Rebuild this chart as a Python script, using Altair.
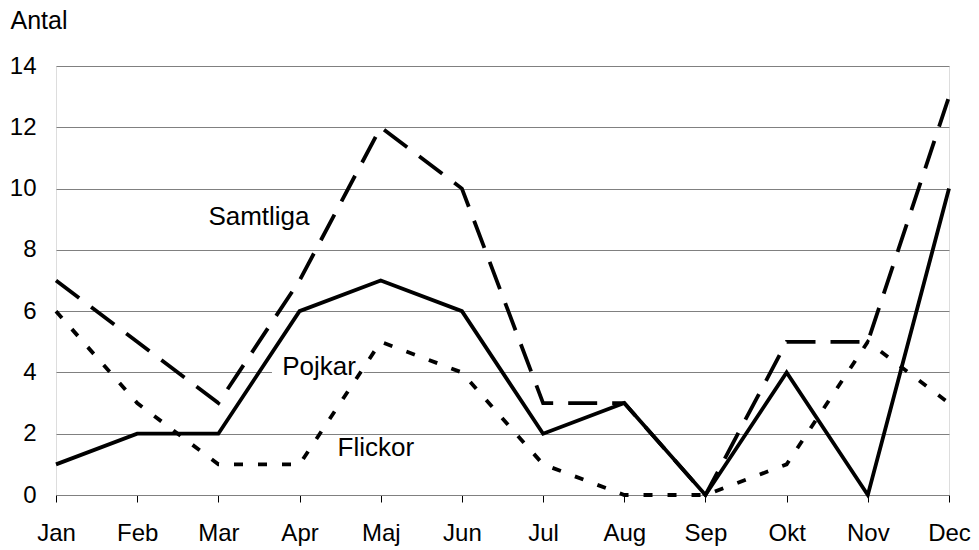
import altair as alt
import pandas as pd

months = ["Jan", "Feb", "Mar", "Apr", "Maj", "Jun", "Jul", "Aug", "Sep", "Okt", "Nov", "Dec"]
samtliga = [7, 5, 3, 7, 12, 10, 3, 3, 0, 5, 5, 13]
pojkar = [1, 2, 2, 6, 7, 6, 2, 3, 0, 4, 0, 10]
flickor = [6, 3, 1, 1, 5, 4, 1, 0, 0, 1, 5, 3]

label_names = ["Samtliga", "Pojkar", "Flickor"]
label_x = [2.50, 3.24, 3.94]
label_y = [9.07, 4.18, 1.53]

idx = list(range(len(months)))
rows = []
for name, vals in [("Samtliga", samtliga), ("Pojkar", pojkar), ("Flickor", flickor)]:
    for i, v in zip(idx, vals):
        rows.append({"i": i, "month": months[i], "serie": name, "antal": v})
df = pd.DataFrame(rows)

labels_df = pd.DataFrame({"label": label_names, "x": label_x, "y": label_y})
mask_df = pd.DataFrame({"x": [2.66], "x2": [3.79], "y": [3.75], "y2": [4.57]})

FONT = "Liberation Sans"
month_expr = "[" + ",".join(f"'{m}'" for m in months) + "][datum.value]"

xscale = alt.Scale(domain=[0, 11], nice=False, zero=False)
yscale = alt.Scale(domain=[0, 14], nice=False)

xaxis = alt.Axis(
    values=idx, labelExpr=month_expr, title=None, grid=False,
    domainColor="#808080", domainWidth=1, tickColor="#000000", tickWidth=1,
    tickSize=7, labelPadding=19, labelFontSize=24, labelFont=FONT,
    labelColor="#000000", labelAngle=0, labelBaseline="top",
    labelBound=False, labelFlush=False, labelOverlap=False,
)
yaxis = alt.Axis(
    values=[0, 2, 4, 6, 8, 10, 12, 14], title="Antal", titleAngle=0,
    titleAlign="left", titleBaseline="alphabetic", titleX=-46, titleY=-38,
    titleFont=FONT, titleFontSize=25, titleFontWeight="normal", titleColor="#000000",
    grid=True, gridColor="#808080", gridWidth=1, domain=False, ticks=False,
    tickSize=0, labelPadding=20, labelFontSize=24, labelFont=FONT,
    labelColor="#000000",
)

base = alt.Chart(df)

mask = alt.Chart(mask_df).mark_rect(fill="white", stroke=None).encode(
    x=alt.X("x:Q", scale=xscale, axis=xaxis),
    x2="x2:Q",
    y=alt.Y("y:Q", scale=yscale, axis=yaxis),
    y2="y2:Q",
)

def line(name, dash):
    kw = dict(color="black", strokeWidth=3.8, strokeCap="butt", strokeJoin="miter")
    if dash:
        kw["strokeDash"] = dash
    return base.transform_filter(alt.datum.serie == name).mark_line(**kw).encode(
        x=alt.X("i:Q", scale=xscale, axis=xaxis),
        y=alt.Y("antal:Q", scale=yscale, axis=yaxis),
    )

l_s = line("Samtliga", [29, 15])
l_p = line("Pojkar", None)
l_f = line("Flickor", [9, 15])

texts = alt.Chart(labels_df).mark_text(
    font=FONT, fontSize=26, color="black", align="center", baseline="middle"
).encode(
    x=alt.X("x:Q", scale=xscale, axis=xaxis),
    y=alt.Y("y:Q", scale=yscale, axis=yaxis),
    text="label:N",
)

chart = alt.layer(mask, l_s, l_p, l_f, texts).properties(
    width=893, height=429,
    autosize=alt.AutoSizeParams(type="none"),
    padding={"left": 48, "top": 58, "right": 22, "bottom": 52},
).configure_view(stroke=None).configure(background="white")

chart.save("out.html", embed_options={"renderer": "svg", "actions": False})
